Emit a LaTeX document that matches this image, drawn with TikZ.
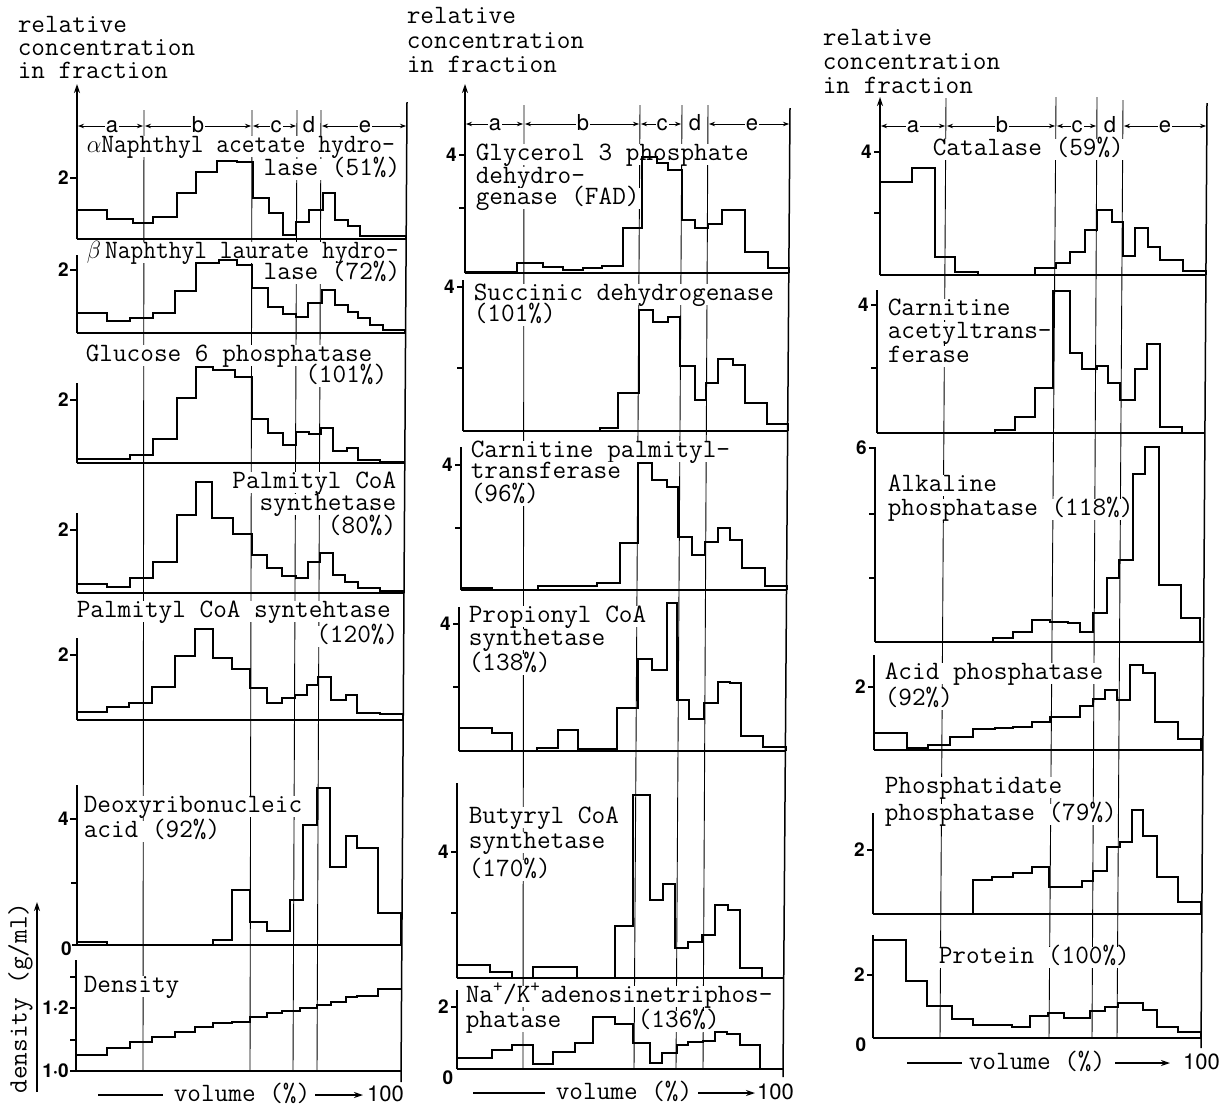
\documentclass[tikz,border=0pt]{standalone}
\usepackage{fontspec}
\usepackage{graphicx}
\newfontfamily\hv{TeX Gyre Heros}
\usetikzlibrary{arrows.meta}
\begin{document}
\begin{tikzpicture}[x=1pt,y=-1pt,
 hist/.style={line width=2.2pt,line join=miter},
 axisl/.style={line width=2.2pt},
 divl/.style={line width=0.9pt},
 bordl/.style={line width=1.5pt},
 basel/.style={line width=2pt},
 tickl/.style={line width=1.4pt},
 lbl/.style={font=\ttfamily\fontsize{26.5}{28}\selectfont,fill=white,inner sep=0.6pt,anchor=base west,text height=15pt,text depth=4pt},
 lblr/.style={lbl,anchor=base east},
 num/.style={font=\hv\bfseries\fontsize{19}{19}\selectfont,inner sep=0pt,anchor=east},
 hdr/.style={font=\hv\fontsize{22}{22}\selectfont,fill=white,inner sep=1pt,anchor=base},
 harr/.style={line width=0.8pt,{Stealth[length=6pt,width=4.5pt]}-{Stealth[length=6pt,width=4.5pt]}},
 big/.style={font=\hv\fontsize{22}{22}\selectfont,inner sep=0pt,anchor=base west},
 uparr/.style={line width=2.2pt,-{Stealth[length=9pt,width=6pt]}},
 volarr/.style={line width=1.4pt,-{Stealth[length=9pt,width=6pt]}}
]
\useasboundingbox (0,0) rectangle (1225,1109);
\fill[white] (0,0) rectangle (1225,1109);

% ---------------- dividers ----------------
\draw[divl] (144,110) -- (143,1071);
\draw[divl] (252,110) -- (250,1071);
\draw[divl] (297,110) -- (293,1071);
\draw[divl] (321,110) -- (317,1071);
\draw[divl] (524,105) -- (523,1069);
\draw[divl] (640,105) -- (634,1069);
\draw[divl] (682,105) -- (676,1069);
\draw[divl] (708,105) -- (703,1069);
\draw[divl] (946,97) -- (940,1038);
\draw[divl] (1056,97) -- (1049,1038);
\draw[divl] (1097,97) -- (1092,1038);
\draw[divl] (1123,100) -- (1117,1038);

% ---------------- titles ----------------
\node[lbl] (c1t1) at (17,32) {relative};
\node[lbl] (c1t2) at (17,55) {concentration};
\node[lbl] (c1t3) at (17,78) {in fraction};
\node[lbl] (c2t1) at (406,23) {relative};
\node[lbl] (c2t2) at (406,48) {concentration};
\node[lbl] (c2t3) at (406,72) {in fraction};
\node[lbl] (c3t1) at (822,45) {relative};
\node[lbl] (c3t2) at (822,69) {concentration};
\node[lbl] (c3t3) at (822,93) {in fraction};

% ---------------- headers ----------------
\draw[harr] (78,126) -- (143,126);
\draw[harr] (145,126) -- (251,126);
\draw[harr] (253,126) -- (296,126);
\draw[harr] (322,126) -- (406,126);
\node[hdr] (h1a) at (112,132) {a};
\node[hdr] (h1b) at (198,132) {b};
\node[hdr] (h1c) at (276,132) {c};
\node[hdr] (h1d) at (309,132) {d};
\node[hdr] (h1e) at (365,132) {e};
\draw[harr] (466,124) -- (523,124);
\draw[harr] (525,124) -- (639,124);
\draw[harr] (641,124) -- (681,124);
\draw[harr] (709,124) -- (789,124);
\node[hdr] (h2a) at (495,130) {a};
\node[hdr] (h2b) at (583,130) {b};
\node[hdr] (h2c) at (662,130) {c};
\node[hdr] (h2d) at (695,130) {d};
\node[hdr] (h2e) at (752,130) {e};
\draw[harr] (881,126) -- (945,126);
\draw[harr] (947,126) -- (1055,126);
\draw[harr] (1057,126) -- (1096,126);
\draw[harr] (1124,126) -- (1206,126);
\node[hdr] (h3a) at (913,132) {a};
\node[hdr] (h3b) at (1002,132) {b};
\node[hdr] (h3c) at (1077,132) {c};
\node[hdr] (h3d) at (1110,132) {d};
\node[hdr] (h3e) at (1165,132) {e};

% ---------------- panel labels, column 1 ----------------
\node[lbl] (p1a) at (86,152) {\scalebox{0.935}[1]{$\alpha$Naphthyl acetate hydro-}};
\node[lblr] (p1b) at (401,175) {lase (51\%)};
\node[lbl] (p2a) at (86,258) {\scalebox{0.935}[1]{$\beta$\,Naphthyl laurate hydro-}};
\node[lblr] (p2b) at (401,279) {lase (72\%)};
\node[lbl] (p3a) at (85,361) {Glucose 6 phosphatase};
\node[lblr] (p3b) at (388,382) {(101\%)};
\node[lblr] (p4a) at (397,488) {Palmityl CoA};
\node[lblr] (p4b) at (397,510) {synthetase};
\node[lblr] (p4c) at (397,533) {(80\%)};
\node[lbl] (p5a) at (76,617) {Palmityl CoA syntehtase};
\node[lblr] (p5b) at (399,642) {(120\%)};
\node[lbl] (p6a) at (83,812) {Deoxyribonucleic};
\node[lbl] (p6b) at (83,837) {acid (92\%)};
\node[lbl] (p7a) at (83,992) {Density};

% ---------------- panel labels, column 2 ----------------
\node[lbl] (q1a) at (475,160) {Glycerol 3 phosphate};
\node[lbl] (q1b) at (475,183) {dehydro-};
\node[lbl] (q1c) at (475,204) {genase (FAD)};
\node[lbl] (q2a) at (473,300) {Succinic dehydrogenase};
\node[lbl] (q2b) at (473,321) {(101\%)};
\node[lbl] (q3a) at (470,457) {Carnitine palmityl-};
\node[lbl] (q3b) at (470,478) {transferase};
\node[lbl] (q3c) at (470,501) {(96\%)};
\node[lbl] (q4a) at (468,622) {Propionyl CoA};
\node[lbl] (q4b) at (468,645) {synthetase};
\node[lbl] (q4c) at (468,670) {(138\%)};
\node[lbl] (q5a) at (468,823) {Butyryl CoA};
\node[lbl] (q5b) at (468,848) {synthetase};
\node[lbl] (q5c) at (468,876) {(170\%)};
\node[lbl] (q6a) at (465,1002) {Na\textsuperscript{+}/K\textsuperscript{+}adenosinetriphos-};
\node[lbl] (q6b) at (465,1027) {phatase};
\node[lbl] (q6c) at (637,1027) {(136\%)};

% ---------------- panel labels, column 3 ----------------
\node[lbl] (r1a) at (932,155) {Catalase (59\%)};
\node[lbl] (r2a) at (887,315) {Carnitine};
\node[lbl] (r2b) at (887,338) {acetyltrans-};
\node[lbl] (r2c) at (887,362) {ferase};
\node[lbl] (r3a) at (887,491) {Alkaline};
\node[lbl] (r3b) at (887,515) {phosphatase (118\%)};
\node[lbl] (r4a) at (884,679) {Acid phosphatase};
\node[lbl] (r4b) at (884,705) {(92\%)};
\node[lbl] (r5a) at (884,793) {Phosphatidate};
\node[lbl] (r5b) at (884,820) {phosphatase (79\%)};
\node[lbl] (r6a) at (938,963) {Protein (100\%)};

% ---------------- right borders ----------------
\draw[bordl] (407,102) -- (401,1082);
\draw[bordl] (790,108) -- (783,1077);
\draw[bordl] (1207,103) -- (1201,1048);

% ---------------- histograms column 1 ----------------
\draw[hist] (77,239) |- (107,210) |- (133,219) |- (153,223) |- (177,217) |- (196,193) |- (217,172) |- (237,161) |- (253,162) |- (269,198) |- (283,213) |- (296,235) |- (309,222) |- (323,210) |- (335,193) |- (348,220) |- (360,226) |- (406,236) -- (406,239);
\draw[hist] (77,333) |- (107,313) |- (130,321) |- (153,318) |- (175,313) |- (196,291) |- (219,263) |- (237,260) |- (252,265) |- (268,288) |- (283,307) |- (296,314) |- (308,317) |- (322,303) |- (335,290) |- (348,305) |- (358,312) |- (370,318) |- (383,325) |- (405,330) -- (405,333);
\draw[hist] (77,463) |- (130,459) |- (153,455) |- (177,439) |- (196,398) |- (213,367) |- (235,370) |- (252,377) |- (268,419) |- (283,433) |- (296,445) |- (309,432) |- (321,434) |- (333,428) |- (347,451) |- (358,448) |- (380,460) |- (404,462) -- (404,463);
\draw[hist] (77,593) |- (107,584) |- (130,587) |- (153,578) |- (177,562) |- (196,515) |- (212,482) |- (233,518) |- (252,534) |- (267,555) |- (282,568) |- (296,576) |- (308,578) |- (320,562) |- (333,553) |- (345,575) |- (358,582) |- (380,588) |- (404,591) -- (404,593);
\draw[hist] (77,720) |- (107,712) |- (129,707) |- (152,703) |- (175,687) |- (195,656) |- (213,629) |- (232,658) |- (250,669) |- (267,688) |- (282,703) |- (295,698) |- (307,695) |- (318,685) |- (331,677) |- (346,700) |- (357,695) |- (380,713) |- (403,714) -- (403,720);
\draw[hist] (77,945) |- (107,942) |- (213,945) |- (232,940) |- (250,890) |- (267,922) |- (290,931) |- (303,900) |- (317,825) |- (330,788) |- (346,867) |- (357,836) |- (378,848) |- (401,913) -- (401,945);
\draw[hist] (76,1071) |- (107,1055) |- (130,1048) |- (152,1042) |- (175,1037) |- (195,1032) |- (213,1027) |- (232,1023) |- (250,1022) |- (267,1017) |- (282,1013) |- (300,1011) |- (317,1008) |- (331,1005) |- (346,1002) |- (357,997) |- (378,996) |- (401,989);

% ---------------- histograms column 2 ----------------
\draw[hist] (465,273) |- (517,272) |- (543,263) |- (563,267) |- (583,270) |- (602,268) |- (623,266) |- (642,228) |- (657,157) |- (668,163) |- (682,170) |- (695,220) |- (708,228) |- (722,224) |- (745,210) |- (768,252) |- (789,268) -- (789,273);
\draw[hist] (463,431) |- (600,431) |- (618,428) |- (639,393) |- (653,310) |- (668,322) |- (680,317) |- (695,366) |- (706,400) |- (718,383) |- (733,359) |- (745,365) |- (767,403) |- (788,424) -- (788,431);
\draw[hist] (461,590) |- (492,588) |- (538,590) |- (597,586) |- (620,583) |- (638,543) |- (652,463) |- (667,480) |- (678,487) |- (692,537) |- (705,555) |- (718,542) |- (730,528) |- (742,540) |- (765,568) |- (787,586) -- (787,590);
\draw[hist] (459,751) |- (492,728) |- (512,733) |- (537,751) |- (558,748) |- (578,730) |- (617,749) |- (638,708) |- (652,659) |- (667,670) |- (677,603) |- (689,700) |- (704,719) |- (718,703) |- (730,682) |- (741,683) |- (763,736) |- (786,747) -- (786,751);
\draw[hist] (457,978) |- (490,965) |- (512,972) |- (533,978) |- (577,967) |- (615,978) |- (633,926) |- (650,795) |- (663,900) |- (675,884) |- (688,948) |- (702,942) |- (715,935) |- (728,905) |- (740,910) |- (762,968) -- (762,978);
\draw[hist] (457,1069) |- (492,1058) |- (512,1050) |- (533,1045) |- (553,1064) |- (575,1052) |- (593,1043) |- (615,1017) |- (633,1024) |- (650,1043) |- (662,1063) |- (677,1053) |- (688,1045) |- (703,1042) |- (715,1041) |- (727,1032) |- (740,1034) |- (760,1045) -- (760,1069);

% ---------------- histograms column 3 ----------------
\draw[hist] (880,275) |- (912,182) |- (935,168) |- (955,257) |- (978,272) |- (1035,275) |- (1056,268) |- (1070,263) |- (1085,252) |- (1097,230) |- (1112,210) |- (1123,222) |- (1135,256) |- (1148,228) |- (1160,247) |- (1183,260) |- (1206,271) -- (1206,275);
\draw[hist] (877,433) |- (995,433) |- (1015,430) |- (1035,417) |- (1053,388) |- (1070,291) |- (1082,353) |- (1097,369) |- (1108,366) |- (1120,383) |- (1135,400) |- (1147,369) |- (1160,344) |- (1182,427) -- (1182,433);
\draw[hist] (875,642) |- (993,642) |- (1013,638) |- (1032,632) |- (1050,620) |- (1068,622) |- (1080,623) |- (1093,632) |- (1107,613) |- (1119,578) |- (1133,560) |- (1145,474) |- (1159,447) |- (1181,585) |- (1200,618) -- (1200,642);
\draw[hist] (874,750) |- (907,733) |- (928,748) |- (950,745) |- (973,737) |- (995,729) |- (1013,728) |- (1032,727) |- (1050,722) |- (1080,717) |- (1093,706) |- (1105,699) |- (1117,690) |- (1130,700) |- (1143,665) |- (1155,673) |- (1178,722) |- (1201,739) -- (1201,750);
\draw[hist] (873,914) |- (973,914) |- (992,880) |- (1013,877) |- (1032,873) |- (1049,867) |- (1082,887) |- (1093,881) |- (1107,871) |- (1120,847) |- (1132,842) |- (1143,810) |- (1157,836) |- (1178,877) |- (1201,902) -- (1201,914);
\draw[hist] (873,1038) |- (906,940) |- (927,981) |- (952,1006) |- (973,1019) |- (1012,1025) |- (1030,1027) |- (1048,1016) |- (1064,1013) |- (1090,1018) |- (1105,1011) |- (1118,1007) |- (1143,1003) |- (1157,1010) |- (1178,1027) |- (1201,1032) -- (1201,1038);

% ---------------- axes ----------------
\draw[uparr] (77,239) -- (77,84);
\draw[axisl] (77,333) -- (77,255);
\draw[axisl] (77,463) -- (77,383);
\draw[axisl] (77,593) -- (77,513);
\draw[axisl] (77,720) -- (77,638);
\draw[axisl] (77,945) -- (77,785);
\draw[axisl] (76,1071) -- (76,960);
\draw[uparr] (465,273) -- (465,84);
\draw[axisl] (463,431) -- (463,280);
\draw[axisl] (461,590) -- (461,447);
\draw[axisl] (459,751) -- (459,607);
\draw[axisl] (457,978) -- (457,783);
\draw[axisl] (457,1069) -- (457,990);
\draw[uparr] (880,275) -- (880,97);
\draw[axisl] (877,433) -- (877,290);
\draw[axisl] (875,642) -- (875,447);
\draw[axisl] (874,750) -- (874,655);
\draw[axisl] (873,914) -- (873,813);
\draw[axisl] (873,1038) -- (873,935);

% ---------------- baselines ----------------
\draw[basel] (77,239) -- (406,239);
\draw[basel] (77,333) -- (405,333);
\draw[basel] (77,463) -- (404,463);
\draw[basel] (77,593) -- (404,593);
\draw[basel] (77,720) -- (403,720);
\draw[basel] (72,945) -- (402,945);
\draw[basel] (76,1071) -- (401,1071);
\draw[basel] (465,273) -- (789,273);
\draw[basel] (463,431) -- (788,431);
\draw[basel] (461,590) -- (787,590);
\draw[basel] (459,751) -- (786,751);
\draw[basel] (457,978) -- (784,978);
\draw[basel] (457,1069) -- (783,1069);
\draw[basel] (880,275) -- (1206,275);
\draw[basel] (877,433) -- (1205,433);
\draw[basel] (875,642) -- (1204,642);
\draw[basel] (874,750) -- (1203,750);
\draw[basel] (873,914) -- (1202,914);
\draw[basel] (873,1038) -- (1201,1038);

% ---------------- ticks and numbers, column 1 ----------------
\foreach \yy/\nn in {178/k1,270/k2,400/k3,530/k4,655/k5} {
  \draw[tickl] (70,\yy) -- (77,\yy);
  \node[num] (\nn) at (69,\yy) {2};
}
\draw[tickl] (70,819) -- (77,819);
\node[num] (k6) at (69,819) {4};
\draw[tickl] (71,883) -- (77,883);
\node[num] (k7) at (72,949) {0};
\draw[tickl] (70,977) -- (76,977);
\draw[tickl] (70,1008) -- (76,1008);
\draw[tickl] (70,1040) -- (76,1040);
\draw[tickl] (70,1071) -- (76,1071);
\node[num] (k8) at (69,1008) {1·2};
\node[num] (k9) at (69,1071) {1·0};

% ---------------- ticks and numbers, column 2 ----------------
\draw[tickl] (459,155) -- (465,155);
\node[num] (m1) at (457,155) {4};
\draw[tickl] (459,208) -- (465,208);
\draw[tickl] (457,287) -- (463,287);
\node[num] (m2) at (455,287) {4};
\draw[tickl] (457,368) -- (463,368);
\draw[tickl] (455,465) -- (461,465);
\node[num] (m3) at (453,465) {4};
\draw[tickl] (455,528) -- (461,528);
\draw[tickl] (453,624) -- (459,624);
\node[num] (m4) at (451,624) {4};
\draw[tickl] (453,687) -- (459,687);
\draw[tickl] (451,852) -- (457,852);
\node[num] (m5) at (449,852) {4};
\draw[tickl] (451,913) -- (457,913);
\draw[tickl] (451,1007) -- (457,1007);
\node[num] (m6) at (449,1007) {2};
\node[num,anchor=center] (m7) at (448,1078) {0};

% ---------------- ticks and numbers, column 3 ----------------
\draw[tickl] (874,152) -- (880,152);
\node[num] (n1) at (872,152) {4};
\draw[tickl] (874,213) -- (880,213);
\draw[tickl] (871,305) -- (877,305);
\node[num] (n2) at (869,305) {4};
\draw[tickl] (871,368) -- (877,368);
\draw[tickl] (869,448) -- (875,448);
\node[num] (n3) at (867,448) {6};
\draw[tickl] (869,514) -- (875,514);
\draw[tickl] (869,578) -- (875,578);
\draw[tickl] (868,687) -- (874,687);
\node[num] (n4) at (866,687) {2};
\draw[tickl] (867,850) -- (873,850);
\node[num] (n5) at (865,850) {2};
\draw[tickl] (867,975) -- (873,975);
\node[num] (n6) at (865,975) {2};
\node[num,anchor=center] (n7) at (861,1045) {0};

% ---------------- volume axes ----------------
\coordinate (v1s) at (98,1095); \coordinate (v1e) at (163,1095);
\coordinate (a1s) at (315,1095); \coordinate (a1e) at (363,1095);
\draw[line width=1.4pt] (v1s) -- (v1e);
\node[lbl,fill=none] (v1) at (173,1101) {volume (\%)};
\draw[volarr] (a1s) -- (a1e);
\node[big] (hh1) at (367,1101) {100};
\coordinate (v2s) at (473,1093); \coordinate (v2e) at (545,1093);
\coordinate (a2s) at (698,1093); \coordinate (a2e) at (755,1093);
\draw[line width=1.4pt] (v2s) -- (v2e);
\node[lbl,fill=none] (v2) at (555,1099) {volume (\%)};
\draw[volarr] (a2s) -- (a2e);
\node[big] (hh2) at (757,1099) {100};
\coordinate (v3s) at (907,1063); \coordinate (v3e) at (962,1063);
\coordinate (a3s) at (1115,1063); \coordinate (a3e) at (1170,1063);
\draw[line width=1.4pt] (v3s) -- (v3e);
\node[lbl,fill=none] (v3) at (968,1069) {volume (\%)};
\draw[volarr] (a3s) -- (a3e);
\node[big] (hh3) at (1183,1069) {100};

% ---------------- density axis ----------------
\node[lbl,fill=none,rotate=90,anchor=center] (dlab) at (21,998) {density (g/ml)};
\coordinate (da1) at (37,1092); \coordinate (da2) at (37,902);
\draw[volarr] (da1) -- (da2);
\end{tikzpicture}
\end{document}
